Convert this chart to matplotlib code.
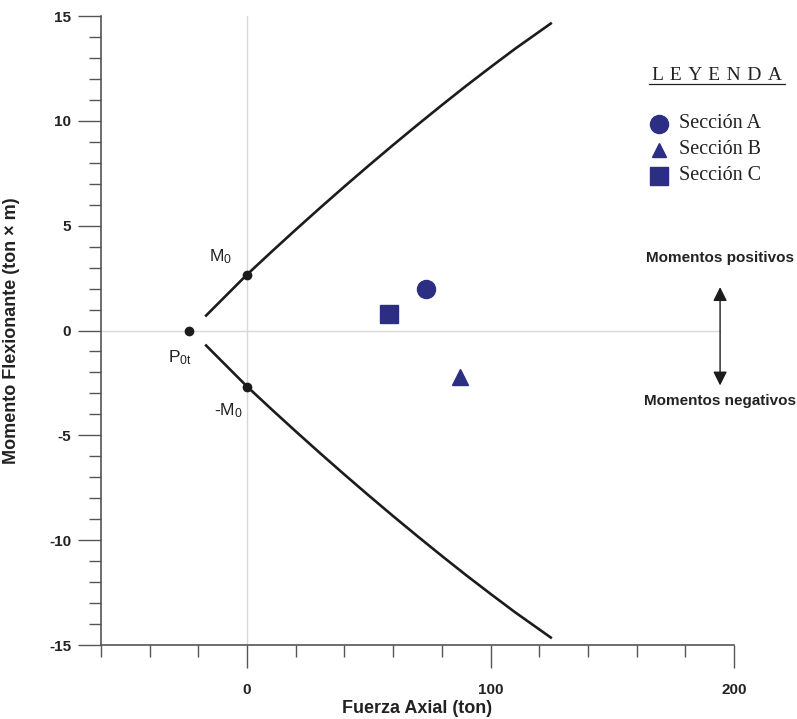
import numpy as np
import matplotlib
matplotlib.use("Agg")
import matplotlib.pyplot as plt
from matplotlib.ticker import MultipleLocator, FixedLocator

plt.rcParams['font.family'] = ['Liberation Sans', 'DejaVu Sans']
plt.rcParams['mathtext.default'] = 'regular'
plt.rcParams['axes.unicode_minus'] = False

# Interaction envelope (upper branch; lower branch is its mirror)
axial_env = [-17.2, 0, 10, 20, 30, 40, 50, 60, 70, 80, 90, 100, 110, 125.2]
moment_env = [0.67, 2.67, 3.75, 4.81, 5.85, 6.87, 7.87, 8.85, 9.81, 10.75,
              11.67, 12.56, 13.43, 14.68]

# Key points
M0 = 2.67
P0t = -24.0

# Sections (axial force, moment)
sections = ["Sección A", "Sección B", "Sección C"]
sec_axial = [73.4, 87.5, 58.4]
sec_moment = [1.96, -2.2, 0.8]
sec_marker = ["o", "^", "s"]
sec_size = [13, 12, 13.5]

x_ticks = [0, 100, 200]
y_ticks = [-15, -10, -5, 0, 5, 10, 15]

navy = "#2B2E83"
dark = "#1c1c1c"
axis_gray = "#555555"

fig = plt.figure(figsize=(7.97, 7.19), dpi=100)
ax = fig.add_axes([0.1267, 0.1029, 0.7942, 0.8748])

ax.set_xlim(-60, 200)
ax.set_ylim(-15, 15)

# reference lines
ax.axvline(0, color="#d8d8d8", lw=1, zorder=0)
ax.plot([-60, 194.3], [0, 0], color="#d8d8d8", lw=1, zorder=0)

# envelope
env_x = np.array(axial_env)
env_y = np.array(moment_env)
ax.plot(env_x, env_y, color=dark, lw=1.9, solid_capstyle="butt", solid_joinstyle="round")
ax.plot(env_x, -env_y, color=dark, lw=1.9, solid_capstyle="butt", solid_joinstyle="round")

# key points
ax.plot([0, 0, P0t], [M0, -M0, 0], "o", color=dark, ms=6, zorder=5)
ax.text(-10.7, 3.5, "M$_0$", fontsize=12.5, ha="center", va="center", color="#222")
ax.text(-27.5, -1.3, "P$_{0t}$", fontsize=12.5, ha="center", va="center", color="#222")
ax.text(-7.8, -3.8, "-M$_0$", fontsize=12.5, ha="center", va="center", color="#222")

# sections
for px, py, mk, sz in zip(sec_axial, sec_moment, sec_marker, sec_size):
    ax.plot(px, py, marker=mk, color=navy, ms=sz, ls="none", zorder=6)

# moment sign arrow
ax.annotate("", xy=(194.3, 2.07), xytext=(194.3, -2.62),
            arrowprops=dict(arrowstyle="<|-|>", color=dark, lw=1.0,
                            mutation_scale=21, shrinkA=0, shrinkB=0))
ax.text(194.3, 3.48, "Momentos positivos", fontsize=11, fontweight="bold",
        ha="center", va="center", color="#222", clip_on=False)
ax.text(194.3, -3.34, "Momentos negativos", fontsize=11, fontweight="bold",
        ha="center", va="center", color="#222", clip_on=False)

# legend
serif = ["Liberation Serif", "DejaVu Serif"]
gap = " \u200a"
ax.text(193, 12.15, gap.join("LEYENDA"), fontsize=14, family=serif,
        ha="center", va="center", color="#222", clip_on=False)
ax.plot([165.1, 220.9], [11.78, 11.78], color="#222", lw=0.9, clip_on=False)
leg_y = [9.87, 8.63, 7.39]
leg_size = [13, 10.5, 13.5]
for name, mk, sz, ly in zip(sections, sec_marker, leg_size, leg_y):
    ax.plot(169.2, ly, marker=mk, color=navy, ms=sz, ls="none", clip_on=False)
    ax.text(177.4, ly, name, fontsize=14.5, family=serif, ha="left",
            va="center", color="#222", clip_on=False)

# axes styling
for side in ("top", "right"):
    ax.spines[side].set_visible(False)
for side in ("left", "bottom"):
    ax.spines[side].set_color(axis_gray)
    ax.spines[side].set_linewidth(1.2)

ax.xaxis.set_major_locator(FixedLocator(x_ticks))
ax.xaxis.set_minor_locator(MultipleLocator(20))
ax.yaxis.set_major_locator(FixedLocator(y_ticks))
ax.yaxis.set_minor_locator(MultipleLocator(1))
ax.tick_params(which="major", length=16.5, width=1, color=axis_gray,
               labelsize=11, labelcolor="#222")
ax.tick_params(which="minor", length=8.5, width=1, color=axis_gray)
ax.tick_params(axis="x", which="major", pad=11)
ax.tick_params(axis="y", which="major", pad=5)
for lab in ax.get_xticklabels() + ax.get_yticklabels():
    lab.set_fontweight("bold")

ax.set_xlabel("Fuerza Axial (ton)", fontsize=13, fontweight="bold", color="#222")
ax.set_ylabel("Momento Flexionante (ton × m)", fontsize=13, fontweight="bold", color="#222")
ax.xaxis.set_label_coords(0.5, -0.087)
ax.yaxis.set_label_coords(-0.128, 0.5)

fig.savefig("out.png", dpi=100)
